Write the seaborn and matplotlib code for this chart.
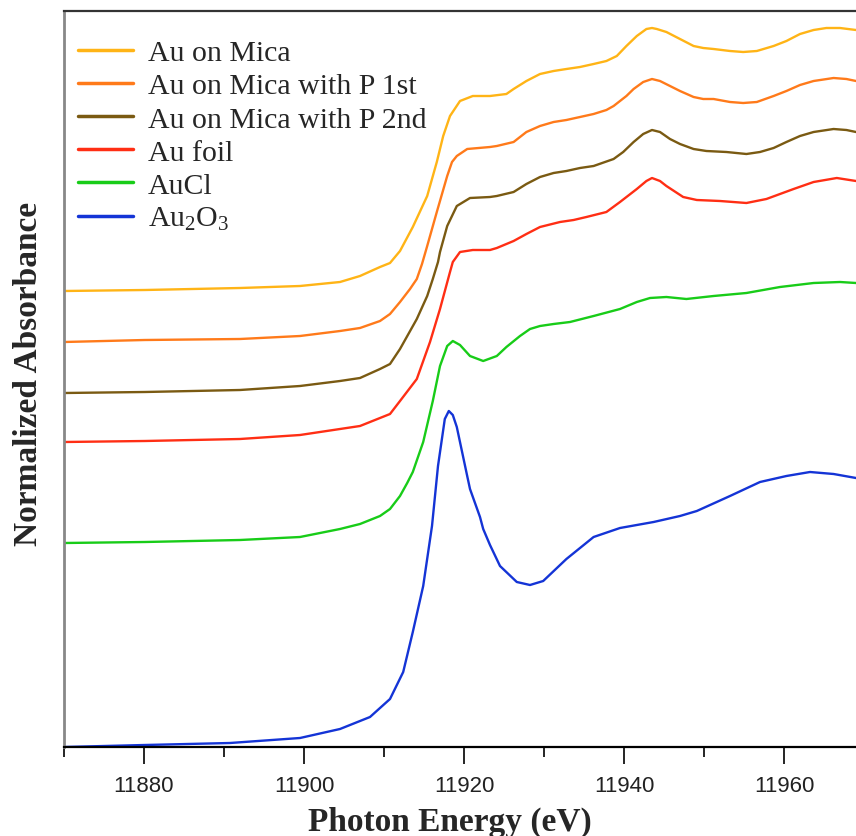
import numpy as np
import pandas as pd
import matplotlib
matplotlib.use("Agg")
import matplotlib.pyplot as plt
import seaborn as sns
from matplotlib.ticker import MultipleLocator

# ---------------- data ----------------
labels = ["Au on Mica", "Au on Mica with P 1st", "Au on Mica with P 2nd",
          "Au foil", "AuCl", "Au$_2$O$_3$"]
colors = ["#FFB416", "#FF7A1A", "#7A5A12", "#FF2E14", "#18CC18", "#1434D6"]

e_mica = [11870, 11880.1, 11892, 11899.5, 11904.5, 11907, 11909.5, 11910.75, 11912,
          11913.6, 11915.4, 11916.6, 11917.4, 11918.25, 11919.5, 11921.1, 11923.25,
          11925.3, 11926.2, 11927.8, 11929.5, 11931.2, 11932.8, 11934.5, 11936.2,
          11937.8, 11939.1, 11940.3, 11941.6, 11942.8, 11943.5, 11944.1, 11945.3,
          11947, 11948.7, 11949.9, 11951.2, 11953.25, 11954.9, 11956.6, 11958.7,
          11960.3, 11962, 11963.7, 11965.3, 11967, 11969]
a_mica = [4.56, 4.57, 4.59, 4.61, 4.65, 4.71, 4.80, 4.84, 4.96, 5.20, 5.51, 5.85, 6.11,
          6.31, 6.46, 6.51, 6.51, 6.53, 6.58, 6.66, 6.73, 6.76, 6.78, 6.80, 6.83, 6.86,
          6.91, 7.01, 7.11, 7.18, 7.19, 7.18, 7.15, 7.08, 7.01, 6.99, 6.98, 6.96, 6.95,
          6.96, 7.01, 7.06, 7.13, 7.17, 7.19, 7.19, 7.17]

e_p1 = [11870, 11880.1, 11892, 11899.5, 11904.5, 11907, 11909.5, 11910.75, 11912,
        11913.25, 11914.1, 11914.75, 11915.4, 11916.6, 11917.9, 11918.5, 11919.1,
        11920.4, 11923.25, 11924.1, 11926.2, 11927.8, 11929.5, 11931.2, 11932.8,
        11934.5, 11936.2, 11937.8, 11938.7, 11940.3, 11941.2, 11942.4, 11943.5,
        11944.5, 11945.75, 11947, 11948.7, 11949.9, 11951.2, 11953.25, 11954.9,
        11956.6, 11958.7, 11960.3, 11962, 11963.7, 11966.2, 11967.8, 11969]
a_p1 = [4.05, 4.07, 4.08, 4.11, 4.16, 4.19, 4.26, 4.33, 4.45, 4.58, 4.68, 4.83, 5.01,
        5.35, 5.71, 5.85, 5.91, 5.98, 6.00, 6.01, 6.05, 6.15, 6.21, 6.25, 6.27, 6.30,
        6.33, 6.37, 6.41, 6.51, 6.58, 6.65, 6.68, 6.66, 6.61, 6.56, 6.50, 6.48, 6.48,
        6.45, 6.44, 6.45, 6.51, 6.56, 6.62, 6.66, 6.69, 6.68, 6.66]

e_p2 = [11870, 11880.1, 11892, 11899.5, 11904.5, 11907, 11909.5, 11910.75, 11912,
        11914.1, 11915.4, 11916.1, 11916.75, 11917, 11917.9, 11919.1, 11920.75,
        11923.25, 11924.1, 11926.2, 11927.8, 11929.5, 11931.2, 11932.8, 11934.5,
        11936.2, 11938.7, 11939.9, 11941.2, 11942.4, 11943.5, 11944.5, 11945.75,
        11947, 11948.7, 11950.3, 11952.8, 11955.3, 11957, 11958.7, 11960.3, 11962,
        11963.7, 11966.2, 11967.8, 11969]
a_p2 = [3.54, 3.55, 3.57, 3.61, 3.66, 3.69, 3.78, 3.83, 3.98, 4.28, 4.51, 4.68, 4.85,
        4.95, 5.21, 5.41, 5.49, 5.50, 5.51, 5.55, 5.63, 5.70, 5.74, 5.76, 5.79, 5.81,
        5.88, 5.95, 6.05, 6.13, 6.17, 6.15, 6.08, 6.03, 5.98, 5.96, 5.95, 5.93, 5.95,
        5.99, 6.05, 6.11, 6.15, 6.18, 6.17, 6.15]

e_foil = [11870, 11880.1, 11892, 11899.5, 11904.5, 11907, 11909.5, 11910.75, 11912,
          11914.1, 11915.75, 11917, 11918.25, 11918.6, 11919.5, 11921.1, 11923.25,
          11924.1, 11926.2, 11927.8, 11929.5, 11932, 11933.7, 11935.3, 11937.8,
          11939.5, 11941.6, 11942.8, 11943.5, 11944.5, 11945.3, 11947.4, 11949.1,
          11952, 11955.3, 11957.8, 11959.5, 11961.2, 11963.7, 11966.6, 11969]
a_foil = [3.05, 3.06, 3.08, 3.12, 3.18, 3.21, 3.29, 3.33, 3.46, 3.68, 4.05, 4.38, 4.75,
          4.85, 4.95, 4.97, 4.97, 4.99, 5.06, 5.13, 5.20, 5.25, 5.27, 5.30, 5.35, 5.45,
          5.58, 5.66, 5.69, 5.66, 5.61, 5.50, 5.47, 5.46, 5.44, 5.48, 5.53, 5.58, 5.65,
          5.69, 5.66]

e_aucl = [11870, 11880.1, 11892, 11899.5, 11904.5, 11907, 11909.5, 11910.75, 11912,
          11912.9, 11913.6, 11914.9, 11916.1, 11917, 11917.9, 11918.6, 11919.5,
          11920.75, 11922.4, 11924.1, 11925.3, 11927, 11928.25, 11929.5, 11931.2,
          11933.25, 11936.2, 11939.5, 11941.6, 11943.25, 11945.3, 11947.8, 11951.2,
          11955.3, 11959.5, 11963.7, 11967, 11969]
a_aucl = [2.04, 2.05, 2.07, 2.10, 2.18, 2.23, 2.31, 2.38, 2.51, 2.64, 2.75, 3.05, 3.46,
          3.81, 4.01, 4.06, 4.02, 3.91, 3.86, 3.91, 4.00, 4.11, 4.18, 4.21, 4.23, 4.25,
          4.31, 4.38, 4.45, 4.49, 4.50, 4.48, 4.51, 4.54, 4.60, 4.64, 4.65, 4.64]

e_au2o3 = [11870, 11880.1, 11890.75, 11899.5, 11904.5, 11908.25, 11910.75, 11912.4,
           11913.6, 11914.9, 11916, 11916.75, 11917.6, 11918.1, 11918.6, 11919.1,
           11920.4, 11920.75, 11922, 11922.4, 11923.25, 11924.5, 11926.6, 11928.25,
           11929.9, 11932.8, 11936.2, 11939.5, 11943.7, 11947, 11949.1, 11953.25,
           11957, 11960.3, 11963.25, 11966.2, 11969]
a_au2o3 = [0.00, 0.02, 0.04, 0.09, 0.18, 0.30, 0.48, 0.75, 1.15, 1.61, 2.21, 2.81, 3.28,
           3.36, 3.32, 3.20, 2.71, 2.58, 2.30, 2.18, 2.02, 1.81, 1.65, 1.62, 1.66, 1.88,
           2.10, 2.19, 2.25, 2.31, 2.36, 2.51, 2.65, 2.71, 2.75, 2.73, 2.69]

energies = [e_mica, e_p1, e_p2, e_foil, e_aucl, e_au2o3]
absorb = [a_mica, a_p1, a_p2, a_foil, a_aucl, a_au2o3]

frames = []
for lab, e, a in zip(labels, energies, absorb):
    frames.append(pd.DataFrame({"Energy": e, "Absorbance": a, "Sample": lab}))
df = pd.concat(frames, ignore_index=True)

# ---------------- plot ----------------
sns.set_style("white")
plt.rcParams["mathtext.fontset"] = "custom"
plt.rcParams["mathtext.rm"] = "Liberation Serif"
plt.rcParams["mathtext.it"] = "Liberation Serif"
plt.rcParams["mathtext.default"] = "rm"

fig = plt.figure(figsize=(8.56, 8.37), dpi=100)
ax = fig.add_axes([64 / 856, (837 - 748) / 837, 1 - 64 / 856, (748 - 12) / 837])

sns.lineplot(data=df, x="Energy", y="Absorbance", hue="Sample", hue_order=labels,
             palette=dict(zip(labels, colors)), sort=False, estimator=None,
             linewidth=1.7, ax=ax)

ax.set_xlim(11870, 11969)
ax.set_ylim(0, 7.36)
ax.set_yticks([])
ax.xaxis.set_major_locator(MultipleLocator(20))
ax.xaxis.set_minor_locator(MultipleLocator(10))
ax.tick_params(axis="x", which="major", direction="out", length=12, width=1.2,
               color="black", bottom=True, labelsize=16, pad=8)
ax.tick_params(axis="x", which="minor", direction="out", length=7, width=1.2,
               color="black", bottom=True)
for lbl in ax.get_xticklabels():
    lbl.set_fontfamily("Liberation Sans")
    lbl.set_color("#222222")

ax.spines["right"].set_visible(False)
ax.spines["top"].set_color("#333333")
ax.spines["top"].set_linewidth(1.6)
ax.spines["bottom"].set_color("black")
ax.spines["bottom"].set_linewidth(1.6)
ax.spines["left"].set_color("#888888")
ax.spines["left"].set_linewidth(2.0)

ax.set_xlabel("Photon Energy (eV)", fontsize=24, fontweight="bold",
              family="Liberation Serif")
ax.xaxis.set_label_coords(0.487, -0.080)
ax.set_ylabel("Normalized Absorbance", fontsize=24, fontweight="bold",
              family="Liberation Serif")
ax.yaxis.set_label_coords(-0.025, 0.508)

leg = ax.legend(loc="upper left", bbox_to_anchor=(-0.009, 0.99), frameon=False,
                prop={"family": "Liberation Serif", "size": 21.5},
                handlelength=1.85, handletextpad=0.5, labelspacing=0.21,
                borderaxespad=0.5, borderpad=0.2)
for h in leg.get_lines():
    h.set_linewidth(2.5)

fig.savefig("out.png", dpi=100)
